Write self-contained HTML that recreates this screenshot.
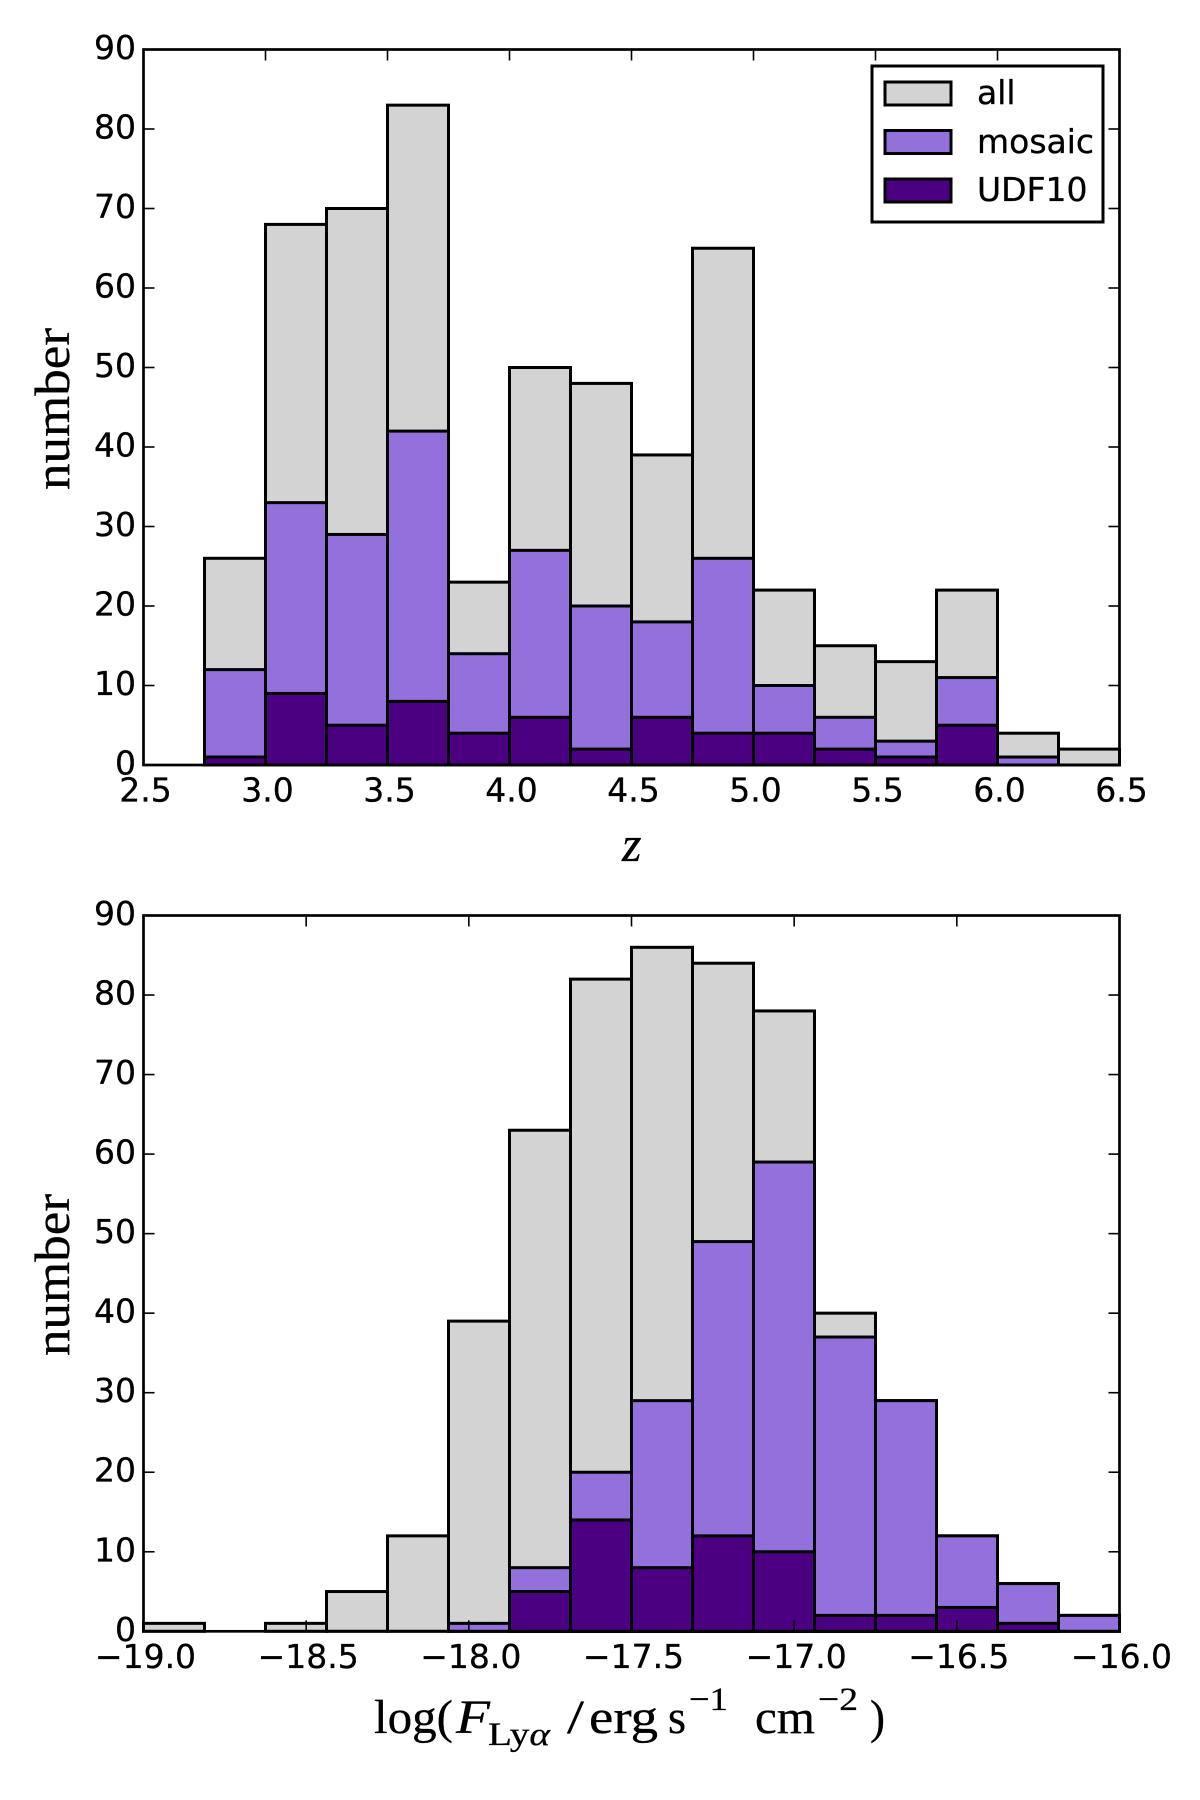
<!DOCTYPE html>
<html lang="en">
<head>
<meta charset="utf-8">
<title>Histograms of redshift and Lyman-alpha flux</title>
<style>
html,body{margin:0;padding:0;background:#fff;width:1200px;height:1800px;overflow:hidden}
svg{display:block}
.tick-label{font-family:"DejaVu Sans",sans-serif;font-size:33px;fill:#000;stroke:#000;stroke-width:0.3px}
.legend-label{font-family:"DejaVu Sans",sans-serif;font-size:33px;fill:#000;stroke:#000;stroke-width:0.3px}
.math{font-family:"Liberation Serif",serif;fill:#000;stroke:#000;stroke-width:0.3px}
</style>
</head>
<body>
<svg id="chart" xmlns="http://www.w3.org/2000/svg" width="1200" height="1800" viewBox="0 0 1200 1800">
  <rect x="0" y="0" width="1200" height="1800" fill="#fff"/>
  <g id="top-panel"></g>
  <g id="bottom-panel"></g>

  <text class="math" font-size="50" text-anchor="middle" textLength="162" lengthAdjust="spacingAndGlyphs" transform="translate(69,409) rotate(-90)">number</text>
  <text class="math" font-size="50" text-anchor="middle" textLength="162" lengthAdjust="spacingAndGlyphs" transform="translate(69,1275) rotate(-90)">number</text>
  <text class="math" font-size="50" font-style="italic" x="622" y="861">z</text>

  <g>
    <text class="math" font-size="48" x="374" y="1733" textLength="79" lengthAdjust="spacingAndGlyphs">log(</text>
    <text class="math" font-size="48" font-style="italic" x="456" y="1733" textLength="34" lengthAdjust="spacingAndGlyphs">F</text>
    <text class="math" font-size="33" x="488" y="1745" textLength="62" lengthAdjust="spacingAndGlyphs">Ly<tspan font-style="italic">α</tspan></text>
    <text class="math" font-size="48" x="567" y="1733" textLength="17" lengthAdjust="spacingAndGlyphs">/</text>
    <text class="math" font-size="48" x="589" y="1733" textLength="69" lengthAdjust="spacingAndGlyphs">erg</text>
    <text class="math" font-size="48" x="668" y="1733" textLength="18" lengthAdjust="spacingAndGlyphs">s</text>
    <text class="math" font-size="33" x="689" y="1710" textLength="39" lengthAdjust="spacingAndGlyphs">−1</text>
    <text class="math" font-size="48" x="755" y="1733" textLength="60" lengthAdjust="spacingAndGlyphs">cm</text>
    <text class="math" font-size="33" x="818" y="1710" textLength="40" lengthAdjust="spacingAndGlyphs">−2</text>
    <text class="math" font-size="48" x="870" y="1733" textLength="15" lengthAdjust="spacingAndGlyphs">)</text>
  </g>

  <g>
    <rect x="872" y="66" width="231" height="156" fill="#fff" stroke="#000" stroke-width="3"/>
    <g>
      <rect x="885" y="82" width="66" height="23" fill="#d3d3d3" stroke="#000" stroke-width="3"/>
      <text class="legend-label" x="977" y="104">all</text>
    </g>
    <g>
      <rect x="885" y="130.500" width="66" height="23" fill="#9370db" stroke="#000" stroke-width="3"/>
      <text class="legend-label" x="977" y="153">mosaic</text>
    </g>
    <g>
      <rect x="885" y="179" width="66" height="23" fill="#4b0082" stroke="#000" stroke-width="3"/>
      <text class="legend-label" x="977" y="201">UDF10</text>
    </g>
  </g>
</svg>
<script>
// Data for the redshift histogram
var zBinEdges = [2.75,3.0,3.25,3.5,3.75,4.0,4.25,4.5,4.75,5.0,5.25,5.5,5.75,6.0,6.25,6.5];
var zAll      = [26,68,70,83,23,50,48,39,65,22,15,13,22,4,2];
var zMosaic   = [12,33,29,42,14,27,20,18,26,10,6,3,11,1,0];
var zUdf10    = [1,9,5,8,4,6,2,6,4,4,2,1,5,0,0];
var zXRange   = [2.5,6.5];
var zXTicks   = [2.5,3.0,3.5,4.0,4.5,5.0,5.5,6.0,6.5];
var zXTickLabels = ["2.5","3.0","3.5","4.0","4.5","5.0","5.5","6.0","6.5"];

// Data for the flux histogram
var fluxBinEdges = [-19,-18.8125,-18.625,-18.4375,-18.25,-18.0625,-17.875,-17.6875,-17.5,-17.3125,-17.125,-16.9375,-16.75,-16.5625,-16.375,-16.1875,-16];
var fluxAll      = [1,0,1,5,12,39,63,82,86,84,78,40,29,12,6,2];
var fluxMosaic   = [0,0,0,0,0,1,8,20,29,49,59,37,29,12,6,2];
var fluxUdf10    = [0,0,0,0,0,0,5,14,8,12,10,2,2,3,1,0];
var fluxXRange   = [-19,-16];
var fluxXTicks   = [-19,-18.5,-18,-17.5,-17,-16.5,-16];
var fluxXTickLabels = ["−19.0","−18.5","−18.0","−17.5","−17.0","−16.5","−16.0"];

// Shared y axis
var yRange = [0,90];
var yTicks = [0,10,20,30,40,50,60,70,80,90];
var yTickLabels = ["0","10","20","30","40","50","60","70","80","90"];

var SVG_NS = "http://www.w3.org/2000/svg";

function drawSeries(parent, edges, values, fill, seriesName, xScale, yScale) {
  var baseline = yScale(0);
  for (var i = 0; i < values.length; i++) {
    var bar = document.createElementNS(SVG_NS, "rect");
    
    
    var x0 = xScale(edges[i]);
    var x1 = xScale(edges[i + 1]);
    var top = yScale(values[i]);
    bar.setAttribute("x", x0);
    bar.setAttribute("y", top);
    bar.setAttribute("width", x1 - x0);
    bar.setAttribute("height", baseline - top);
    bar.setAttribute("fill", fill);
    bar.setAttribute("stroke", "#000");
    bar.setAttribute("stroke-width", "3");
    parent.appendChild(bar);
  }
}

function drawPanel(panelId, box, xRange, xTicks, xTickLabels, edges, all, mosaic, udf10) {
  var parent = document.getElementById(panelId);
  function xScale(v) { return box.left + (v - xRange[0]) / (xRange[1] - xRange[0]) * (box.right - box.left); }
  function yScale(v) { return box.bottom - (v - yRange[0]) / (yRange[1] - yRange[0]) * (box.bottom - box.top); }

  drawSeries(parent, edges, all, "#d3d3d3", "all", xScale, yScale);
  drawSeries(parent, edges, mosaic, "#9370db", "mosaic", xScale, yScale);
  drawSeries(parent, edges, udf10, "#4b0082", "udf10", xScale, yScale);

  var tickLen = 11;
  yTicks.forEach(function (t, i) {
    var y = yScale(t);
    [[box.left, box.left + tickLen], [box.right, box.right - tickLen]].forEach(function (seg) {
      var tick = document.createElementNS(SVG_NS, "line");
      
      
      tick.setAttribute("x1", seg[0]);
      tick.setAttribute("x2", seg[1]);
      tick.setAttribute("y1", y);
      tick.setAttribute("y2", y);
      tick.setAttribute("stroke", "#000");
      tick.setAttribute("stroke-width", "1.6");
      parent.appendChild(tick);
    });
    var label = document.createElementNS(SVG_NS, "text");
    
    
    label.setAttribute("class", "tick-label");
    label.setAttribute("x", box.left - 7.5);
    label.setAttribute("y", y + 9.5);
    label.setAttribute("text-anchor", "end");
    label.textContent = yTickLabels[i];
    parent.appendChild(label);
  });

  xTicks.forEach(function (t, i) {
    var x = xScale(t);
    [[box.bottom, box.bottom - tickLen], [box.top, box.top + tickLen]].forEach(function (seg) {
      var tick = document.createElementNS(SVG_NS, "line");
      
      
      tick.setAttribute("x1", x);
      tick.setAttribute("x2", x);
      tick.setAttribute("y1", seg[0]);
      tick.setAttribute("y2", seg[1]);
      tick.setAttribute("stroke", "#000");
      tick.setAttribute("stroke-width", "1.6");
      parent.appendChild(tick);
    });
    var label = document.createElementNS(SVG_NS, "text");
    
    
    label.setAttribute("class", "tick-label");
    label.setAttribute("x", x + 2);
    label.setAttribute("y", box.bottom + 36.5);
    label.setAttribute("text-anchor", "middle");
    label.textContent = xTickLabels[i];
    parent.appendChild(label);
  });

  var frame = document.createElementNS(SVG_NS, "rect");
  
  
  frame.setAttribute("x", box.left);
  frame.setAttribute("y", box.top);
  frame.setAttribute("width", box.right - box.left);
  frame.setAttribute("height", box.bottom - box.top);
  frame.setAttribute("fill", "none");
  frame.setAttribute("stroke", "#000");
  frame.setAttribute("stroke-width", "2.7");
  parent.appendChild(frame);
}

drawPanel("top-panel", {left:143.5,right:1119.5,top:49.5,bottom:765}, zXRange, zXTicks, zXTickLabels, zBinEdges, zAll, zMosaic, zUdf10);
drawPanel("bottom-panel", {left:143.5,right:1119.5,top:915.5,bottom:1631.3}, fluxXRange, fluxXTicks, fluxXTickLabels, fluxBinEdges, fluxAll, fluxMosaic, fluxUdf10);
</script>
</body>
</html>
